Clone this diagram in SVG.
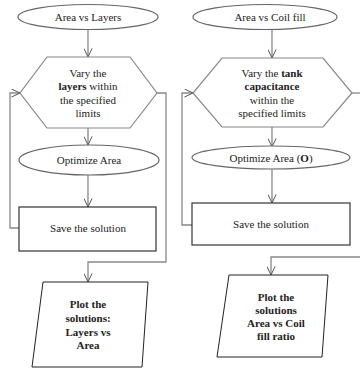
<svg xmlns="http://www.w3.org/2000/svg" width="360" height="370" viewBox="0 0 360 370">
<style>
text{font-family:"Liberation Serif","Times New Roman",serif;font-size:11px;fill:#222;text-anchor:middle}
.b{font-weight:bold}
.ell{fill:#fff;stroke:#666;stroke-width:1.2}
.hex{fill:#fff;stroke:#888;stroke-width:1.2}
.box{fill:#fff;stroke:#333;stroke-width:1.2}
.par{fill:#fff;stroke:#222;stroke-width:1}
.con{fill:none;stroke:#888;stroke-width:1.3}
</style>
<defs>
<marker id="ah" viewBox="0 0 10 10" refX="9.5" refY="5" markerWidth="9" markerHeight="9" markerUnits="userSpaceOnUse" orient="auto">
<path d="M0,0.5 L9.5,5 L0,9.5" fill="none" stroke="#555" stroke-width="1.1"/>
</marker>
</defs>
<rect width="360" height="370" fill="#fff"/>
<g id="connectors">
<line class="con" x1="88" y1="30" x2="88" y2="57" marker-end="url(#ah)"/>
<line class="con" x1="88" y1="128" x2="88" y2="145" marker-end="url(#ah)"/>
<line class="con" x1="88" y1="175" x2="88" y2="207" marker-end="url(#ah)"/>
<polyline class="con" points="19,228 10,228 10,93 20,93" marker-end="url(#ah)"/>
<polyline class="con" points="157,93 166,93 166,262 88,262 88,282" marker-end="url(#ah)"/>
<line class="con" x1="272" y1="30" x2="272" y2="58" marker-end="url(#ah)"/>
<line class="con" x1="272" y1="127" x2="272" y2="147" marker-end="url(#ah)"/>
<line class="con" x1="272" y1="168" x2="272" y2="203" marker-end="url(#ah)"/>
<polyline class="con" points="192,225 182,225 182,93 193,93" marker-end="url(#ah)"/>
<line class="con" x1="352" y1="93" x2="360" y2="93"/>
<polyline class="con" points="360,257 271,257 271,275" marker-end="url(#ah)"/>
</g>
<g id="start1">
<ellipse class="ell" cx="88" cy="17" rx="70" ry="12.5"/>
<text x="88" y="21">Area vs Layers</text>
</g>
<g id="vary1">
<polygon class="hex" points="47,57 130,57 157,93 130,128 47,128 20,93"/>
<text x="88" y="77">Vary the</text>
<text x="88" y="90"><tspan class="b">layers</tspan> within</text>
<text x="88" y="104">the specified</text>
<text x="88" y="117">limits</text>
</g>
<g id="opt1">
<ellipse class="ell" cx="89" cy="160" rx="70" ry="15"/>
<text x="89" y="164">Optimize Area</text>
</g>
<g id="save1">
<rect class="box" x="19" y="207" width="137" height="44"/>
<text x="88" y="232">Save the solution</text>
</g>
<g id="plot1">
<polygon class="par" points="43,282 148,282 142,367 32,367"/>
<text class="b" x="88" y="308">Plot the</text>
<text class="b" x="88" y="322">solutions:</text>
<text class="b" x="88" y="336">Layers vs</text>
<text class="b" x="88" y="349">Area</text>
</g>
<g id="start2">
<ellipse class="ell" cx="265" cy="17" rx="72" ry="12.5"/>
<text x="270" y="21">Area vs Coil fill</text>
</g>
<g id="vary2">
<polygon class="hex" points="222,58 323,58 352,93 323,127 222,127 193,93"/>
<text x="272" y="77">Vary the <tspan class="b">tank</tspan></text>
<text x="272" y="90" class="b">capacitance</text>
<text x="272" y="104">within the</text>
<text x="272" y="117">specified limits</text>
</g>
<g id="opt2">
<ellipse class="ell" cx="271" cy="157.5" rx="79" ry="11.5"/>
<text x="271" y="162">Optimize Area (<tspan class="b">O</tspan>)</text>
</g>
<g id="save2">
<rect class="box" x="192" y="203" width="158" height="42"/>
<text x="271" y="228">Save the solution</text>
</g>
<g id="plot2">
<polygon class="par" points="229,275 328,275 322,357 217,357"/>
<text class="b" x="276" y="301">Plot the</text>
<text class="b" x="276" y="314">solutions</text>
<text class="b" x="276" y="327">Area vs Coil</text>
<text class="b" x="276" y="340">fill ratio</text>
</g>
</svg>
